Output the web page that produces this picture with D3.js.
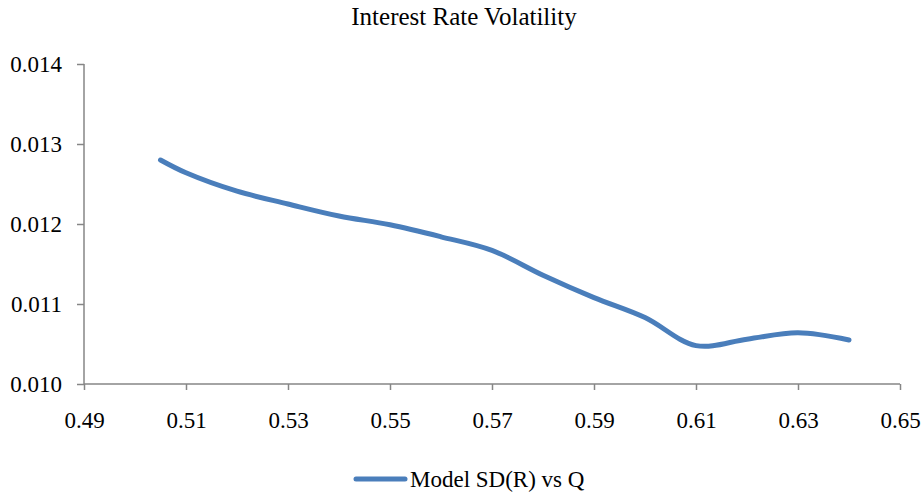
<!DOCTYPE html>
<html>
<head>
<meta charset="utf-8">
<script src="https://cdn.jsdelivr.net/npm/d3@7"></script>
<style>
  body { margin: 0; background: #fff; }
</style>
</head>
<body>
<script>
// data
var qValues = [0.505, 0.51, 0.52, 0.53, 0.54, 0.55, 0.56, 0.57, 0.58, 0.59, 0.60, 0.61, 0.62, 0.63, 0.64];
var sdValues = [0.01280, 0.01264, 0.01241, 0.01225, 0.01210, 0.01199, 0.01184, 0.01167, 0.01136, 0.01108, 0.01083, 0.01048, 0.01056, 0.01064, 0.01055];
var xTicks = [0.49, 0.51, 0.53, 0.55, 0.57, 0.59, 0.61, 0.63, 0.65];
var yTicks = [0.010, 0.011, 0.012, 0.013, 0.014];
var seriesName = "Model SD(R) vs Q";
var title = "Interest Rate Volatility";

var FONT = "'Liberation Serif', 'Times New Roman', Times, serif";
var W = 924, H = 495;
var margin = { top: 64, right: 24, bottom: 111, left: 84 }
    , width = W - margin.left - margin.right
    , height = H - margin.top - margin.bottom;

var svg = d3.select("body").append("svg")
    .attr("width", W)
    .attr("height", H)
    .style("font-family", FONT);

var g = svg.append("g")
    .attr("transform", "translate(" + margin.left + "," + margin.top + ")");

var xScale = d3.scaleLinear().domain([0.49, 0.65]).range([0, width]);
var yScale = d3.scaleLinear().domain([0.010, 0.014]).range([height, 0]);

// x axis
var xAxis = g.append("g")
    .attr("transform", "translate(0," + height + ")")
    .call(d3.axisBottom(xScale).tickValues(xTicks).tickFormat(d3.format(".2f")).tickSize(6).tickPadding(22));

// y axis
var yAxis = g.append("g")
    .call(d3.axisLeft(yScale).tickValues(yTicks).tickFormat(d3.format(".3f")).tickSize(7).tickPadding(15));

[xAxis, yAxis].forEach(function (a) {
    a.attr("font-family", null).attr("font-size", null);
    a.selectAll("path, line").attr("stroke", "#868686").attr("stroke-width", 1.5);
    a.selectAll("text")
        .style("font-family", FONT)
        .style("font-size", "23px")
        .attr("fill", "#000");
});
// plain axis lines without end caps
xAxis.select(".domain").attr("d", "M0,0H" + width);
yAxis.select(".domain").attr("d", "M0,0V" + height);

var data = qValues.map(function (q, i) { return { q: q, v: sdValues[i] }; });

g.append("path")
    .datum(data)
    .attr("fill", "none")
    .attr("stroke", "#4a7ebb")
    .attr("stroke-width", 5)
    .attr("stroke-linecap", "round")
    .attr("d", d3.line()
        .curve(d3.curveCatmullRom.alpha(0.5))
        .x(function (d) { return xScale(d.q); })
        .y(function (d) { return yScale(d.v); })
    );

// title
svg.append("text")
    .attr("x", 464)
    .attr("y", 25)
    .attr("text-anchor", "middle")
    .style("font-family", FONT)
    .style("font-size", "25px")
    .text(title);

// legend
svg.append("line")
    .attr("x1", 356).attr("x2", 405)
    .attr("y1", 479).attr("y2", 479)
    .attr("stroke", "#4a7ebb")
    .attr("stroke-width", 5)
    .attr("stroke-linecap", "round");
svg.append("text")
    .attr("x", 410)
    .attr("y", 487)
    .style("font-family", FONT)
    .style("font-size", "23px")
    .text(seriesName);
</script>
</body>
</html>
